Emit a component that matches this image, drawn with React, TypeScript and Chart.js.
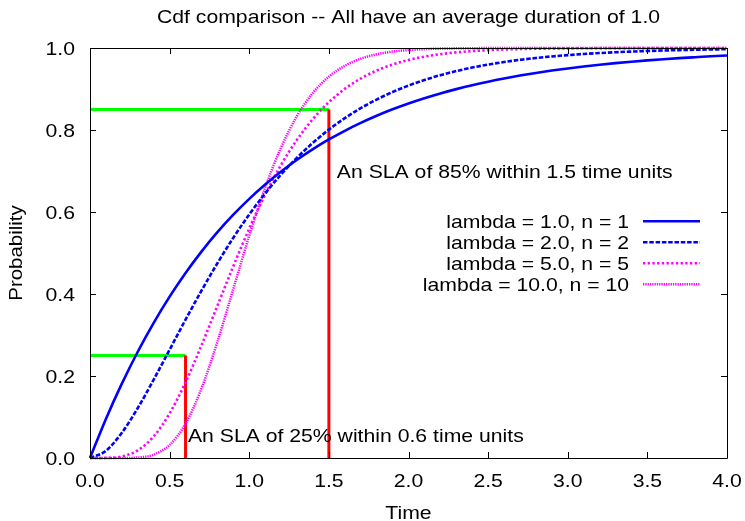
import React, { useEffect, useRef } from "react";
import { Chart, registerables } from "chart.js";

Chart.register(...registerables);

// Sample times shared by the four Erlang CDF curves
const times = [
  0.0, 0.1, 0.2, 0.3, 0.4, 0.5, 0.6, 0.7, 0.8, 0.9,
  1.0, 1.1, 1.2, 1.3, 1.4, 1.5, 1.6, 1.7, 1.8, 1.9,
  2.0, 2.1, 2.2, 2.3, 2.4, 2.5, 2.6, 2.7, 2.8, 2.9,
  3.0, 3.1, 3.2, 3.3, 3.4, 3.5, 3.6, 3.7, 3.8, 3.9, 4.0,
];

const cdfN1 = [
  0.0, 0.0952, 0.1813, 0.2592, 0.3297, 0.3935, 0.4512, 0.5034, 0.5507, 0.5934,
  0.6321, 0.6671, 0.6988, 0.7275, 0.7534, 0.7769, 0.7981, 0.8173, 0.8347, 0.8504,
  0.8647, 0.8775, 0.8892, 0.8997, 0.9093, 0.9179, 0.9257, 0.9328, 0.9392, 0.945,
  0.9502, 0.955, 0.9592, 0.9631, 0.9666, 0.9698, 0.9727, 0.9753, 0.9776, 0.9798, 0.9817,
];

const cdfN2 = [
  0.0, 0.0175, 0.0616, 0.1219, 0.1912, 0.2642, 0.3374, 0.4082, 0.4751, 0.5372,
  0.594, 0.6454, 0.6916, 0.7326, 0.7689, 0.8009, 0.8288, 0.8532, 0.8743, 0.8926,
  0.9084, 0.922, 0.9337, 0.9437, 0.9523, 0.9596, 0.9658, 0.9711, 0.9756, 0.9794,
  0.9826, 0.9854, 0.9877, 0.9897, 0.9913, 0.9927, 0.9939, 0.9949, 0.9957, 0.9964, 0.997,
];

const cdfN5 = [
  0.0, 0.0002, 0.0037, 0.0186, 0.0527, 0.1088, 0.1847, 0.2746, 0.3712, 0.4679,
  0.5595, 0.6425, 0.7149, 0.7763, 0.827, 0.8679, 0.9004, 0.9256, 0.945, 0.9597,
  0.9707, 0.9789, 0.9849, 0.9893, 0.9924, 0.9947, 0.9963, 0.9974, 0.9982, 0.9987,
  0.9991, 0.9994, 0.9996, 0.9997, 0.9998, 0.9998, 0.9999, 0.9999, 0.9999, 1.0, 1.0,
];

const cdfN10 = [
  0.0, 0.0, 0.0, 0.0011, 0.0081, 0.0318, 0.0839, 0.1695, 0.2834, 0.4126,
  0.5421, 0.6595, 0.7576, 0.8342, 0.8906, 0.9301, 0.9567, 0.9739, 0.9846, 0.9912,
  0.995, 0.9972, 0.9985, 0.9992, 0.9996, 0.9998, 0.9999, 1.0, 1.0, 1.0,
  1.0, 1.0, 1.0, 1.0, 1.0, 1.0, 1.0, 1.0, 1.0, 1.0, 1.0,
];

const seriesLabels = [
  "lambda = 1.0, n = 1",
  "lambda = 2.0, n = 2",
  "lambda = 5.0, n = 5",
  "lambda = 10.0, n = 10",
];

// Service-level targets: time limit and probability reached
const slaTimes = [0.6, 1.5];
const slaProbs = [0.25, 0.85];
const slaNotes = [
  "An SLA of 25% within 0.6 time units",
  "An SLA of 85% within 1.5 time units",
];

const xTicks = [0.0, 0.5, 1.0, 1.5, 2.0, 2.5, 3.0, 3.5, 4.0];
const yTicks = [0.0, 0.2, 0.4, 0.6, 0.8, 1.0];

const titleText = "Cdf comparison -- All have an average duration of 1.0";
const xTitle = "Time";
const yTitle = "Probability";

const FONT = '18.6px "Liberation Sans", Arial, sans-serif';
const STRETCH = 1.14;

const curveStyles = [
  { color: "#0000ff", width: 2.6, dash: [] as number[] },
  { color: "#0000ff", width: 2.6, dash: [4.5, 1.8] },
  { color: "#ff00ff", width: 2.6, dash: [2.3, 2.4] },
  { color: "#ff00ff", width: 2.5, dash: [1.3, 1] },
];

function drawText(
  ctx: CanvasRenderingContext2D,
  text: string,
  x: number,
  y: number,
  align: CanvasTextAlign,
  stretch: number,
  rotation = 0
) {
  ctx.save();
  ctx.translate(x, y);
  if (rotation) ctx.rotate(rotation);
  ctx.scale(stretch, 1);
  ctx.font = FONT;
  ctx.fillStyle = "#000";
  ctx.textAlign = align;
  ctx.textBaseline = "alphabetic";
  ctx.fillText(text, 0, 0);
  ctx.restore();
}

const framePlugin = {
  id: "gnuplotFrame",
  afterDatasetsDraw(chart: any) {
    const ctx: CanvasRenderingContext2D = chart.ctx;
    const { left, right, top, bottom } = chart.chartArea;
    const xs = chart.scales.x;
    const ys = chart.scales.y;
    const tick = 6;
    ctx.save();
    ctx.strokeStyle = "#000";
    ctx.lineWidth = 1;
    ctx.setLineDash([]);
    ctx.beginPath();
    ctx.rect(left + 0.5, top + 0.5, right - left, bottom - top);
    for (const v of xTicks) {
      const px = Math.round(xs.getPixelForValue(v)) + 0.5;
      ctx.moveTo(px, bottom);
      ctx.lineTo(px, bottom - tick);
      ctx.moveTo(px, top);
      ctx.lineTo(px, top + tick);
    }
    for (const v of yTicks) {
      const py = Math.round(ys.getPixelForValue(v)) + 0.5;
      ctx.moveTo(left, py);
      ctx.lineTo(left + tick, py);
      ctx.moveTo(right, py);
      ctx.lineTo(right - tick, py);
    }
    ctx.stroke();
    ctx.restore();
  },
  afterDraw(chart: any) {
    const ctx: CanvasRenderingContext2D = chart.ctx;
    const { left, right, top, bottom } = chart.chartArea;
    const xs = chart.scales.x;
    const ys = chart.scales.y;
    const midX = (left + right) / 2;

    // title
    drawText(ctx, titleText, midX, 23, "center", STRETCH);

    // tick labels
    for (const v of xTicks) {
      drawText(ctx, v.toFixed(1), xs.getPixelForValue(v), bottom + 29, "center", STRETCH);
    }
    for (const v of yTicks) {
      drawText(ctx, v.toFixed(1), left - 15, ys.getPixelForValue(v) + 6.7, "right", STRETCH);
    }

    // axis titles
    drawText(ctx, xTitle, midX, 518.5, "center", STRETCH);
    drawText(ctx, yTitle, 22, (top + bottom) / 2, "center", 1.1, -Math.PI / 2);

    // SLA notes
    drawText(ctx, slaNotes[0], xs.getPixelForValue(0.615), ys.getPixelForValue(0.04), "left", STRETCH);
    drawText(ctx, slaNotes[1], xs.getPixelForValue(1.55), ys.getPixelForValue(0.684), "left", STRETCH);

    // key
    const keyTextRight = 629;
    const sampleX0 = 643;
    const sampleX1 = 700;
    const baseline0 = 228;
    const rowGap = 21;
    seriesLabels.forEach((label, i) => {
      const by = baseline0 + i * rowGap;
      drawText(ctx, label, keyTextRight, by, "right", STRETCH);
      const st = curveStyles[i];
      ctx.save();
      ctx.strokeStyle = st.color;
      ctx.lineWidth = st.width;
      ctx.lineCap = "butt";
      ctx.setLineDash(st.dash);
      ctx.beginPath();
      ctx.moveTo(sampleX0, by - 6.7);
      ctx.lineTo(sampleX1, by - 6.7);
      ctx.stroke();
      ctx.restore();
    });
  },
};

export default function App() {
  const canvasRef = useRef<HTMLCanvasElement | null>(null);

  useEffect(() => {
    const canvas = canvasRef.current;
    if (!canvas) return;

    const curves = [cdfN1, cdfN2, cdfN5, cdfN10].map((vals, i) => ({
      label: seriesLabels[i],
      data: times.map((t, j) => ({ x: t, y: vals[j] })),
      borderColor: curveStyles[i].color,
      borderWidth: curveStyles[i].width,
      borderDash: curveStyles[i].dash,
      borderCapStyle: "butt" as const,
      pointRadius: 0,
      fill: false,
      cubicInterpolationMode: "monotone" as const,
      clip: 4,
      order: 1,
    }));

    const slaLines: any[] = [];
    slaTimes.forEach((t, i) => {
      const p = slaProbs[i];
      slaLines.push({
        label: "sla-h-" + i,
        data: [
          { x: 0, y: p },
          { x: t, y: p },
        ],
        borderColor: "#00ff00",
        borderWidth: 3,
        pointRadius: 0,
        fill: false,
        clip: 4,
        order: 3,
      });
      slaLines.push({
        label: "sla-v-" + i,
        data: [
          { x: t, y: 0 },
          { x: t, y: p },
        ],
        borderColor: "#ff0000",
        borderWidth: 3,
        pointRadius: 0,
        fill: false,
        clip: 4,
        order: 2,
      });
    });

    const chart = new Chart(canvas, {
      type: "line",
      data: { datasets: [...curves, ...slaLines] },
      options: {
        animation: false,
        responsive: false,
        devicePixelRatio: 1,
        layout: { padding: { left: 90, right: 18, top: 48, bottom: 63 } },
        plugins: {
          legend: { display: false },
          title: { display: false },
          tooltip: { enabled: false },
        },
        scales: {
          x: { type: "linear", min: 0, max: 4, display: false },
          y: { type: "linear", min: 0, max: 1, display: false },
        },
      },
      plugins: [framePlugin],
    });

    return () => chart.destroy();
  }, []);

  return (
    <canvas
      ref={canvasRef}
      width={745}
      height={521}
      style={{ position: "absolute", left: 0, top: 0, background: "#fff" }}
    />
  );
}
